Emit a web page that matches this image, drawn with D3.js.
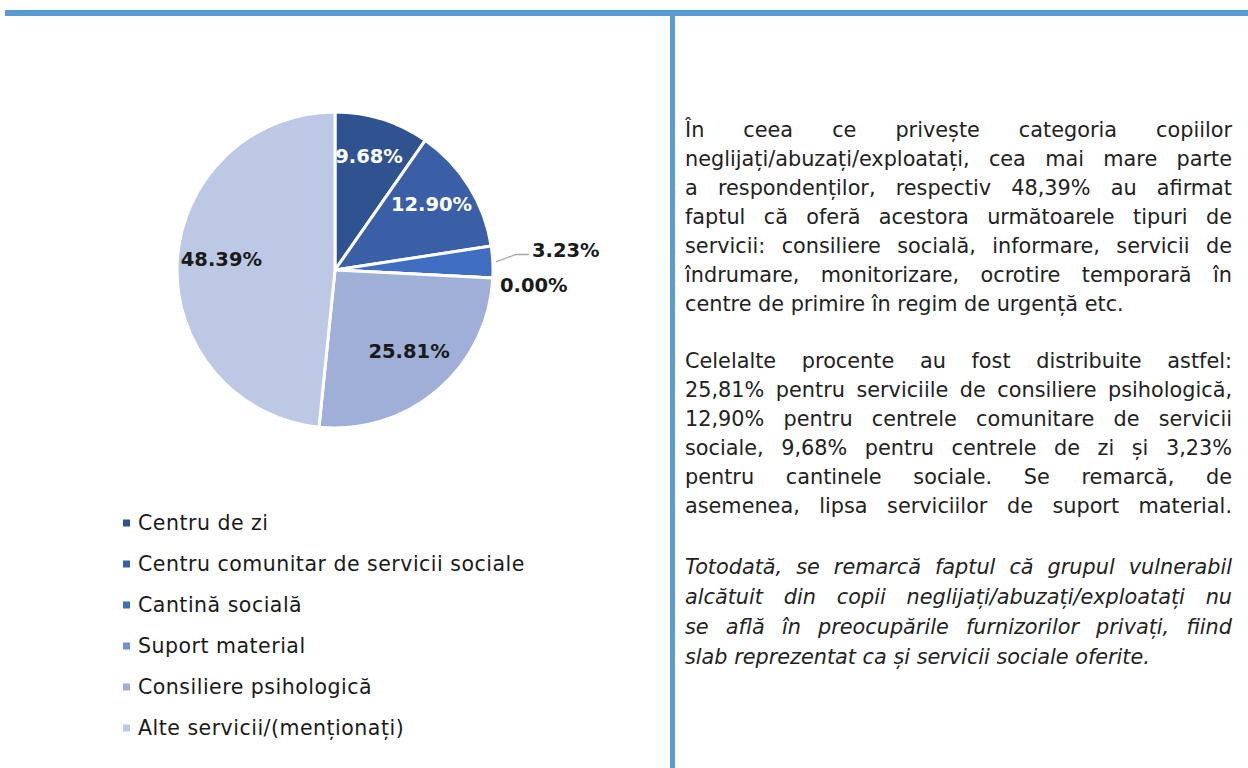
<!DOCTYPE html>
<html>
<head>
<meta charset="utf-8">
<script src="https://cdn.jsdelivr.net/npm/d3@7"></script>
<style>
  html, body { margin: 0; padding: 0; background: #ffffff; }
  body { width: 1248px; height: 768px; position: relative; overflow: hidden; }
  svg { position: absolute; left: 0; top: 0; }
  .para { position: absolute; left: 685px; width: 547px; font-family: "DejaVu Sans", sans-serif; font-size: 20.8px; color: #222222; }
  .para .ln { display: block; white-space: nowrap; text-align: justify; text-align-last: justify; }
  .para .ln.last { text-align-last: left; }
  .para.it { font-style: italic; }
</style>
</head>
<body>
<script>
// ---- data ----
const categories = ["Centru de zi", "Centru comunitar de servicii sociale", "Cantină socială", "Suport material", "Consiliere psihologică", "Alte servicii/(menționați)"];
const values = [9.68, 12.90, 3.23, 0.00, 25.81, 48.39];
const colors = ["#2F5391", "#3A5FA6", "#3F6EC0", "#7590D0", "#9FAFD8", "#BDC8E4"];
const labelColors = ["#ffffff", "#ffffff", "#1a1a1a", "#1a1a1a", "#1a1a1a", "#1a1a1a"];
const paragraphs = [
  { italic: false, lines: [
    "În ceea ce privește categoria copiilor",
    "neglijați/abuzați/exploatați, cea mai mare parte",
    "a respondenților, respectiv 48,39% au afirmat",
    "faptul că oferă acestora următoarele tipuri de",
    "servicii: consiliere socială, informare, servicii de",
    "îndrumare, monitorizare, ocrotire temporară în",
    "centre de primire în regim de urgență etc."
  ]},
  { italic: false, lines: [
    "Celelalte procente au fost distribuite astfel:",
    "25,81% pentru serviciile de consiliere psihologică,",
    "12,90% pentru centrele comunitare de servicii",
    "sociale, 9,68% pentru  centrele de zi și 3,23%",
    "pentru cantinele sociale. Se remarcă, de",
    "asemenea, lipsa serviciilor de suport material."
  ]},
  { italic: true, lines: [
    "Totodată, se remarcă faptul că grupul vulnerabil",
    "alcătuit din copii neglijați/abuzați/exploatați nu",
    "se află în preocupările furnizorilor privați, fiind",
    "slab reprezentat ca și servicii sociale oferite."
  ]}
];

// ---- layout ----
const W = 1248, H = 768;
const svg = d3.select("body").append("svg").attr("width", W).attr("height", H);

// frame bars
svg.append("rect").attr("x", 5).attr("y", 10).attr("width", W - 5).attr("height", 6).attr("fill", "#5B9BD5");
svg.append("rect").attr("x", 670).attr("y", 16).attr("width", 5).attr("height", H - 16).attr("fill", "#5B9BD5");

// pie
const cx = 335, cy = 270, r = 158;
const g = svg.append("g").attr("transform", `translate(${cx},${cy})`);
const data = categories.map((c, i) => ({ cat: c, value: values[i], color: colors[i], lc: labelColors[i] }));
const pie = d3.pie().sort(null).value(d => d.value);
const arcs = pie(data);
const arc = d3.arc().innerRadius(0).outerRadius(r);
g.selectAll("path.slice").data(arcs).join("path")
  .attr("class", "slice")
  .attr("d", arc)
  .attr("fill", d => d.data.color)
  .attr("stroke", "#ffffff")
  .attr("stroke-width", 3)
  .attr("stroke-linejoin", "round");

const fmt = v => v.toFixed(2) + "%";
const labelArc = d3.arc().innerRadius(r * 0.72).outerRadius(r * 0.72);
const labelFont = "'DejaVu Sans', sans-serif";
const labelSize = 19.5;

// inside labels
const inside = arcs.filter(a => a.data.value >= 5);
g.selectAll("text.in").data(inside).join("text")
  .attr("class", "in")
  .attr("x", d => labelArc.centroid(d)[0])
  .attr("y", d => labelArc.centroid(d)[1] - 5)
  .attr("text-anchor", "middle")
  .attr("dominant-baseline", "central")
  .attr("font-family", labelFont)
  .attr("font-weight", "bold")
  .attr("font-size", labelSize)
  .attr("fill", d => d.data.lc)
  .text(d => fmt(d.data.value));

// outside labels (small slices)
const outside = arcs.filter(a => a.data.value < 5);
const midAng = d => (d.startAngle + d.endAngle) / 2;
const meanY = d3.mean(outside, d => -Math.cos(midAng(d)) * r);
const spacing = 35;
outside.forEach((d, i) => {
  const a = midAng(d);
  const ex = Math.sin(a) * (r + 3), ey = -Math.cos(a) * (r + 3);
  const ly = meanY + (i - (outside.length - 1) / 2) * spacing - 2;
  const hasLeader = d.data.value > 0;
  const lx = r + (hasLeader ? 39 : 7);
  if (hasLeader) {
    g.append("polyline")
      .attr("points", [[ex, ey], [lx - 16, ly + 4], [lx - 3, ly + 4]].map(p => p.join(",")).join(" "))
      .attr("fill", "none").attr("stroke", "#A6A6A6").attr("stroke-width", 1.3);
  }
  g.append("text")
    .attr("x", lx).attr("y", ly)
    .attr("text-anchor", "start")
    .attr("dominant-baseline", "central")
    .attr("font-family", labelFont)
    .attr("font-weight", "bold")
    .attr("font-size", labelSize)
    .attr("fill", d.data.lc)
    .text(fmt(d.data.value));
});

// legend
const legend = svg.append("g").attr("transform", "translate(123,523)");
const row = legend.selectAll("g").data(data).join("g")
  .attr("transform", (d, i) => `translate(0,${i * 41})`);
row.append("rect").attr("x", 0).attr("y", -3.5).attr("width", 7).attr("height", 7).attr("fill", d => d.color);
row.append("text").attr("x", 15).attr("y", 0)
  .attr("dominant-baseline", "central")
  .attr("font-family", "'DejaVu Sans', sans-serif")
  .attr("font-size", 20.5)
  .attr("letter-spacing", 0.5)
  .attr("fill", "#1a1a1a")
  .text(d => d.cat);

// text paragraphs
const tops = [116, 347, 552];
const lineH = [29, 29, 30];
paragraphs.forEach((p, pi) => {
  const div = d3.select("body").append("div")
    .attr("class", "para" + (p.italic ? " it" : ""))
    .style("top", tops[pi] + "px")
    .style("line-height", lineH[pi] + "px");
  div.selectAll("span").data(p.lines).join("span")
    .attr("class", (d, i) => "ln" + (i === p.lines.length - 1 && pi !== 1 ? " last" : ""))
    .text(d => d);
});
</script>
</body>
</html>
